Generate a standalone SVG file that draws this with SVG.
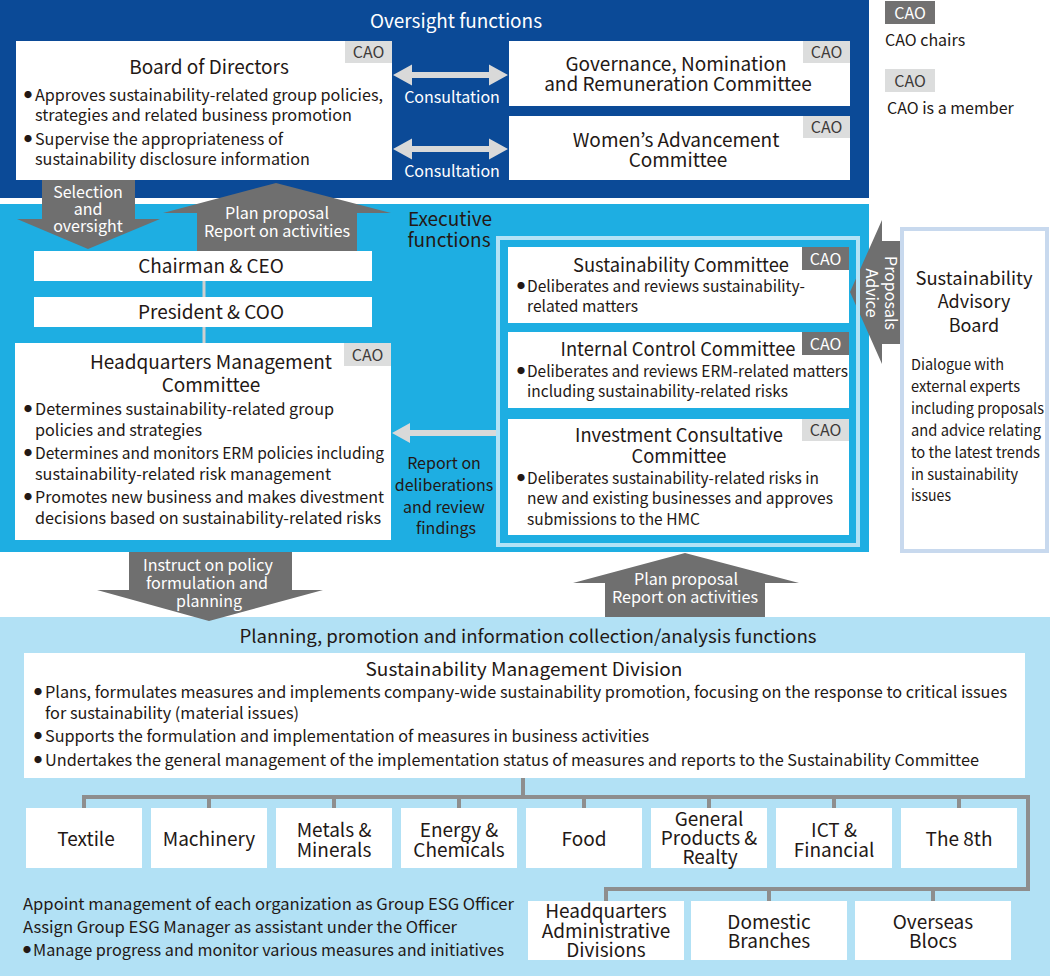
<svg xmlns="http://www.w3.org/2000/svg" width="1050" height="976" viewBox="0 0 1050 976">
<defs>
<style>
text { font-family: "Noto Sans CJK JP", "Noto Sans", sans-serif; fill: #231815; }
.h { font-size: 19px; }
.h18 { font-size: 18px; }
.s { font-size: 16px; }
.m { font-size: 15px; }
.c { text-anchor: middle; }
.w { fill: #ffffff; }
.b { font-size: 8px; }
.box { fill: #ffffff; }
.tagL { fill: #dcdddd; }
.tagD { fill: #727171; }
.tagLt { font-size: 16px; fill: #3e3a39; text-anchor: middle; }
.tagDt { font-size: 16px; fill: #ffffff; text-anchor: middle; }
.garrow { fill: #6f6f6f; }
.larrow { fill: #d9d9d9; }
.conn { fill: none; stroke: #8e8e8e; stroke-width: 4; }
</style>
</defs>

<!-- panels -->
<rect x="0" y="0" width="869" height="198" fill="#0b4a97"/>
<rect x="0" y="204" width="869" height="348" fill="#1eaee2"/>
<rect x="0" y="617" width="1050" height="359" fill="#b2e1f5"/>
<text class="h w c" x="456" y="28" textLength="172" lengthAdjust="spacingAndGlyphs">Oversight functions</text>
<text class="h c" x="450" y="226">Executive</text>
<text class="h c" x="449" y="247">functions</text>
<text class="h18 c" x="528" y="643" textLength="577" lengthAdjust="spacingAndGlyphs">Planning, promotion and information collection/analysis functions</text>

<!-- legend -->
<g id="legend">
<rect class="tagD" x="885" y="1" width="50" height="23"/>
<text class="tagDt" x="910" y="19">CAO</text>
<text class="s" x="885" y="46">CAO chairs</text>
<rect class="tagL" x="885" y="69" width="50" height="23"/>
<text class="tagLt" x="910" y="87">CAO</text>
<text class="s" x="887" y="114">CAO is a member</text>
</g>

<!-- connectors -->
<g id="connectors">
<polygon class="garrow" points="42,180 135,180 135,219 160,219 88,249 17,219 42,219"/>
<text class="s w c" x="88" y="198">Selection</text>
<text class="s w c" x="88" y="215">and</text>
<text class="s w c" x="88" y="232">oversight</text>
<polygon class="garrow" points="276,183 391,213 357,213 357,251 197,251 197,213 163,213"/>
<text class="s w c" x="277" y="219" textLength="104" lengthAdjust="spacingAndGlyphs">Plan proposal</text>
<text class="s w c" x="277" y="237" textLength="146" lengthAdjust="spacingAndGlyphs">Report on activities</text>
<polygon class="larrow" points="393,75 412,64.5 412,72 489,72 489,64.5 508,75 489,85.5 489,78 412,78 412,85.5"/>
<text class="s w c" x="452" y="103">Consultation</text>
<polygon class="larrow" points="393,149 412,138.5 412,146 489,146 489,138.5 508,149 489,159.5 489,152 412,152 412,159.5"/>
<text class="s w c" x="452" y="177">Consultation</text>
<line x1="204" y1="281" x2="204" y2="297" stroke="#cfcfcf" stroke-width="3"/>
<line x1="204" y1="327" x2="204" y2="343" stroke="#cfcfcf" stroke-width="3"/>
<polygon class="larrow" points="392,433 410,423 410,430 497,430 497,436 410,436 410,443"/>
<text class="s c" x="444" y="469">Report on</text>
<text class="s c" x="444" y="491">deliberations</text>
<text class="s c" x="444" y="513">and review</text>
<text class="s c" x="446" y="534">findings</text>
<polygon class="garrow" points="850,292 882,220 882,241 900,241 900,344 882,344 882,364"/>
<text class="s w c" transform="translate(885,293) rotate(90)">Proposals</text>
<text class="s w c" transform="translate(866,293) rotate(90)">Advice</text>
<polygon class="garrow" points="129,552 292,552 292,590 323,590 209,621 97,590 129,590"/>
<text class="s w c" x="208" y="571" textLength="130" lengthAdjust="spacingAndGlyphs">Instruct on policy</text>
<text class="s w c" x="207" y="589" textLength="122" lengthAdjust="spacingAndGlyphs">formulation and</text>
<text class="s w c" x="209" y="607" textLength="66" lengthAdjust="spacingAndGlyphs">planning</text>
<polygon class="garrow" points="685,553 799,583 765,583 765,617 605,617 605,583 573,583"/>
<text class="s w c" x="686" y="585" textLength="104" lengthAdjust="spacingAndGlyphs">Plan proposal</text>
<text class="s w c" x="685" y="603" textLength="146" lengthAdjust="spacingAndGlyphs">Report on activities</text>
<path class="conn" d="M523,778 V797 M84,808 V797 H1028 V889 H606 V901 M209,797 V808 M334,797 V808 M459,797 V808 M584,797 V808 M709,797 V808 M834,797 V808 M959,797 V808 M769,889 V901 M933,889 V901"/>
</g>

<!-- Board of Directors -->
<g id="board">
<rect class="box" x="16" y="41" width="376" height="139"/>
<rect class="tagL" x="345" y="41" width="47" height="22"/>
<text class="tagLt" x="368.5" y="58">CAO</text>
<text class="h c" x="209" y="74">Board of Directors</text>
<text class="b" x="24" y="98">●</text>
<text class="s" x="35" y="101" textLength="348" lengthAdjust="spacingAndGlyphs">Approves sustainability-related group policies,</text>
<text class="s" x="35" y="121" textLength="317" lengthAdjust="spacingAndGlyphs">strategies and related business promotion</text>
<text class="b" x="24" y="142">●</text>
<text class="s" x="35" y="145" textLength="248" lengthAdjust="spacingAndGlyphs">Supervise the appropriateness of</text>
<text class="s" x="35" y="165" textLength="275" lengthAdjust="spacingAndGlyphs">sustainability disclosure information</text>
</g>

<g id="gnrc">
<rect class="box" x="509" y="41" width="341" height="65"/>
<rect class="tagL" x="803" y="41" width="47" height="22"/>
<text class="tagLt" x="826.5" y="58">CAO</text>
<text class="h c" x="676" y="71">Governance, Nomination</text>
<text class="h c" x="678" y="91">and Remuneration Committee</text>
</g>

<g id="wac">
<rect class="box" x="509" y="116" width="341" height="64"/>
<rect class="tagL" x="803" y="116" width="47" height="22"/>
<text class="tagLt" x="826.5" y="133">CAO</text>
<text class="h c" x="676" y="147">Women’s Advancement</text>
<text class="h c" x="678" y="167">Committee</text>
</g>

<g id="chairman">
<rect class="box" x="34" y="251" width="338" height="30"/>
<text class="h c" x="211" y="273">Chairman &amp; CEO</text>
</g>
<g id="president">
<rect class="box" x="34" y="297" width="338" height="30"/>
<text class="h c" x="211" y="319">President &amp; COO</text>
</g>

<g id="hmc">
<rect class="box" x="15" y="343" width="376" height="197"/>
<rect class="tagL" x="344" y="343" width="47" height="23"/>
<text class="tagLt" x="367.5" y="361">CAO</text>
<text class="h c" x="211" y="369">Headquarters Management</text>
<text class="h c" x="211" y="392">Committee</text>
<text class="b" x="24" y="412">●</text>
<text class="s" x="35" y="415" textLength="299" lengthAdjust="spacingAndGlyphs">Determines sustainability-related group</text>
<text class="s" x="35" y="436" textLength="167" lengthAdjust="spacingAndGlyphs">policies and strategies</text>
<text class="b" x="24" y="456">●</text>
<text class="s" x="35" y="459" textLength="349" lengthAdjust="spacingAndGlyphs">Determines and monitors ERM policies including</text>
<text class="s" x="35" y="480" textLength="296" lengthAdjust="spacingAndGlyphs">sustainability-related risk management</text>
<text class="b" x="24" y="500">●</text>
<text class="s" x="35" y="503" textLength="349" lengthAdjust="spacingAndGlyphs">Promotes new business and makes divestment</text>
<text class="s" x="35" y="524" textLength="346" lengthAdjust="spacingAndGlyphs">decisions based on sustainability-related risks</text>
</g>

<g id="execframe">
<rect x="498" y="238" width="360" height="307" fill="none" stroke="#b4e2f6" stroke-width="4"/>
</g>

<g id="sc">
<rect class="box" x="508" y="247" width="341" height="76"/>
<rect class="tagD" x="802" y="247" width="47" height="23"/>
<text class="tagDt" x="825.5" y="265">CAO</text>
<text class="h c" x="681" y="272" textLength="216" lengthAdjust="spacingAndGlyphs">Sustainability Committee</text>
<text class="b" x="517" y="289">●</text>
<text class="s" x="527" y="292" textLength="278" lengthAdjust="spacingAndGlyphs">Deliberates and reviews sustainability-</text>
<text class="s" x="527" y="312" textLength="111" lengthAdjust="spacingAndGlyphs">related matters</text>
</g>

<g id="icc">
<rect class="box" x="508" y="332" width="341" height="76"/>
<rect class="tagD" x="802" y="332" width="47" height="23"/>
<text class="tagDt" x="825.5" y="350">CAO</text>
<text class="h c" x="678" y="356" textLength="235" lengthAdjust="spacingAndGlyphs">Internal Control Committee</text>
<text class="b" x="517" y="374">●</text>
<text class="s" x="527" y="377" textLength="321" lengthAdjust="spacingAndGlyphs">Deliberates and reviews ERM-related matters</text>
<text class="s" x="527" y="397" textLength="261" lengthAdjust="spacingAndGlyphs">including sustainability-related risks</text>
</g>

<g id="ivcc">
<rect class="box" x="508" y="419" width="341" height="116"/>
<rect class="tagL" x="802" y="419" width="47" height="22"/>
<text class="tagLt" x="825.5" y="436">CAO</text>
<text class="h c" x="679" y="442" textLength="208" lengthAdjust="spacingAndGlyphs">Investment Consultative</text>
<text class="h c" x="679" y="463" textLength="95" lengthAdjust="spacingAndGlyphs">Committee</text>
<text class="b" x="517" y="481">●</text>
<text class="s" x="527" y="484" textLength="292" lengthAdjust="spacingAndGlyphs">Deliberates sustainability-related risks in</text>
<text class="s" x="527" y="504" textLength="306" lengthAdjust="spacingAndGlyphs">new and existing businesses and approves</text>
<text class="s" x="527" y="525" textLength="173" lengthAdjust="spacingAndGlyphs">submissions to the HMC</text>
</g>

<g id="sab">
<rect class="box" x="902" y="229" width="145" height="322" stroke="#c8d9ee" stroke-width="4"/>
<text class="h18 c" x="974" y="285" textLength="117" lengthAdjust="spacingAndGlyphs">Sustainability</text>
<text class="h18 c" x="974" y="308">Advisory</text>
<text class="h18 c" x="974" y="332">Board</text>
<text class="m" x="911" y="370" textLength="93" lengthAdjust="spacingAndGlyphs">Dialogue with</text>
<text class="m" x="911" y="392" textLength="109" lengthAdjust="spacingAndGlyphs">external experts</text>
<text class="m" x="911" y="414" textLength="133" lengthAdjust="spacingAndGlyphs">including proposals</text>
<text class="m" x="911" y="436" textLength="130" lengthAdjust="spacingAndGlyphs">and advice relating</text>
<text class="m" x="911" y="458" textLength="129" lengthAdjust="spacingAndGlyphs">to the latest trends</text>
<text class="m" x="911" y="480" textLength="107" lengthAdjust="spacingAndGlyphs">in sustainability</text>
<text class="m" x="911" y="501" textLength="40" lengthAdjust="spacingAndGlyphs">issues</text>
</g>

<g id="smd">
<rect class="box" x="24" y="653" width="1001" height="125"/>
<text class="h18 c" x="524" y="676" textLength="317" lengthAdjust="spacingAndGlyphs">Sustainability Management Division</text>
<text class="b" x="34" y="695">●</text>
<text class="s" x="45" y="698" textLength="962" lengthAdjust="spacingAndGlyphs">Plans, formulates measures and implements company-wide sustainability promotion, focusing on the response to critical issues</text>
<text class="s" x="45" y="719" textLength="254" lengthAdjust="spacingAndGlyphs">for sustainability (material issues)</text>
<text class="b" x="34" y="739">●</text>
<text class="s" x="45" y="742" textLength="604" lengthAdjust="spacingAndGlyphs">Supports the formulation and implementation of measures in business activities</text>
<text class="b" x="34" y="763">●</text>
<text class="s" x="45" y="766" textLength="934" lengthAdjust="spacingAndGlyphs">Undertakes the general management of the implementation status of measures and reports to the Sustainability Committee</text>
</g>

<g id="textile"><rect class="box" x="26" y="808" width="116" height="60"/><text class="h c" x="86" y="846">Textile</text></g>
<g id="machinery"><rect class="box" x="151" y="808" width="116" height="60"/><text class="h c" x="209" y="846">Machinery</text></g>
<g id="metals"><rect class="box" x="276" y="808" width="116" height="60"/><text class="h c" x="334" y="837">Metals &amp;</text><text class="h c" x="334" y="857">Minerals</text></g>
<g id="energy"><rect class="box" x="401" y="808" width="116" height="60"/><text class="h c" x="459" y="837">Energy &amp;</text><text class="h c" x="459" y="857">Chemicals</text></g>
<g id="food"><rect class="box" x="526" y="808" width="116" height="60"/><text class="h c" x="584" y="846">Food</text></g>
<g id="general"><rect class="box" x="651" y="808" width="116" height="60"/><text class="h c" x="709" y="826">General</text><text class="h c" x="709" y="845">Products &amp;</text><text class="h c" x="710" y="864">Realty</text></g>
<g id="ict"><rect class="box" x="776" y="808" width="116" height="60"/><text class="h c" x="834" y="837">ICT &amp;</text><text class="h c" x="834" y="857">Financial</text></g>
<g id="the8th"><rect class="box" x="901" y="808" width="116" height="60"/><text class="h c" x="959" y="846">The 8th</text></g>

<g id="hqadmin"><rect class="box" x="528" y="901" width="156" height="59"/><text class="h c" x="606" y="918">Headquarters</text><text class="h c" x="606" y="938">Administrative</text><text class="h c" x="606" y="957">Divisions</text></g>
<g id="domestic"><rect class="box" x="691" y="901" width="156" height="59"/><text class="h c" x="769" y="929">Domestic</text><text class="h c" x="769" y="948">Branches</text></g>
<g id="overseas"><rect class="box" x="855" y="901" width="156" height="59"/><text class="h c" x="933" y="929">Overseas</text><text class="h c" x="933" y="948">Blocs</text></g>

<g id="esgnote">
<text class="s" x="23" y="910" textLength="491" lengthAdjust="spacingAndGlyphs">Appoint management of each organization as Group ESG Officer</text>
<text class="s" x="23" y="933" textLength="434" lengthAdjust="spacingAndGlyphs">Assign Group ESG Manager as assistant under the Officer</text>
<text class="b" x="23" y="953">●</text>
<text class="s" x="33" y="956" textLength="471" lengthAdjust="spacingAndGlyphs">Manage progress and monitor various measures and initiatives</text>
</g>
</svg>
